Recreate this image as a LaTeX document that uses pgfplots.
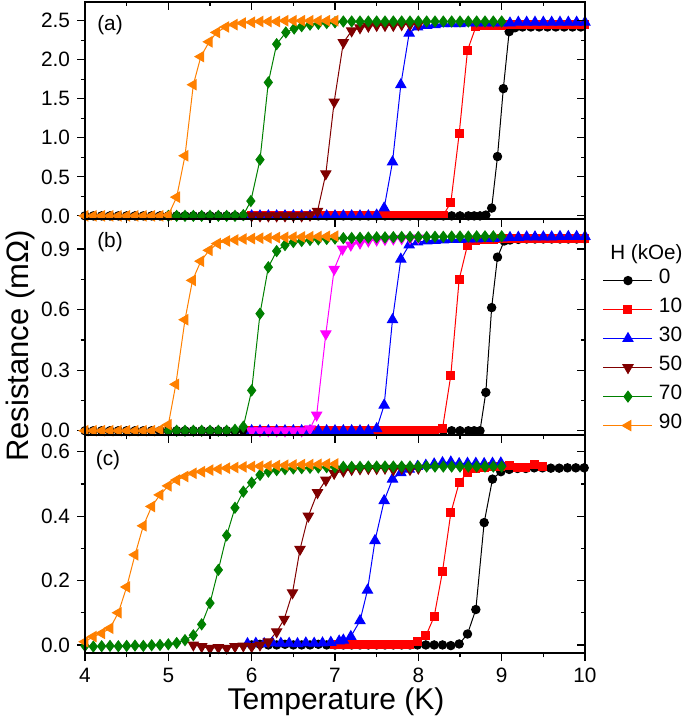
\documentclass[border=0pt]{standalone}
\usepackage{pgfplots}
\pgfplotsset{compat=1.18}
\usepackage{fontspec}
\setmainfont{Liberation Sans}
\definecolor{cred}{RGB}{255,0,0}
\definecolor{cblue}{RGB}{0,0,255}
\definecolor{cwine}{RGB}{128,0,0}
\definecolor{cgreen}{RGB}{0,128,0}
\definecolor{corange}{RGB}{255,128,0}
\definecolor{cmag}{RGB}{255,0,255}
\pgfplotsset{
  panel/.style={scale only axis, width=250pt, anchor=south west,
    xmin=4, xmax=10, xtick={4,5,...,10}, minor x tick num=1, minor y tick num=1,
    tick align=outside, tick pos=left,
    axis line style={line width=0.8pt},
    tick style={black, line width=0.6pt},
    major tick length=4pt, minor tick length=2.2pt,
    ticklabel style={font=\fontsize{10.4}{12}\selectfont},
    /pgf/number format/assume math mode=true,
    yticklabel style={/pgf/number format/.cd, fixed, fixed zerofill, precision=1}},
  over/.style={panel, tick align=inside, tick pos=right, xticklabels={}, yticklabels={}},
  s0/.style={black, line width=0.5pt, mark=*, mark size=2.1pt, mark options={solid}},
  s10/.style={cred, line width=0.5pt, mark=square*, mark size=2pt, mark options={solid}},
  s30/.style={cblue, line width=0.5pt, mark=triangle*, mark size=2.9pt, mark options={solid}},
  s50/.style={cwine, line width=0.5pt, mark=triangle*, mark size=2.9pt, mark options={solid, rotate=180}},
  s50m/.style={cmag, line width=0.5pt, mark=triangle*, mark size=2.9pt, mark options={solid, rotate=180}},
  s70/.style={cgreen, line width=0.5pt, mark=diamond*, mark size=2.7pt, mark options={solid}},
  s90/.style={corange, line width=0.5pt, mark=triangle*, mark size=2.9pt, mark options={solid, rotate=90}},
}
\begin{document}
\begin{tikzpicture}
\useasboundingbox (0,0) rectangle (342.5pt,361.5pt);
% ---------------- panel (a)
\begin{axis}[panel, at={(42.5pt,252pt)}, height=108.5pt, ymin=-0.04, ymax=2.74,
  ytick={0,0.5,1,1.5,2,2.5}, xticklabels={}]
\addplot[s0] coordinates {(4.0,0)(4.1,0)(4.2,0)(4.3,0)(4.4,0)(4.5,0)(4.6,0)(4.7,0)(4.8,0)(4.9,0)(5.0,0)(5.1,0)(5.2,0)(5.3,0)(5.4,0)(5.5,0)(5.6,0)(5.7,0)(5.8,0)(5.9,0)(6.0,0)(6.1,0)(6.2,0)(6.3,0)(6.4,0)(6.5,0)(6.6,0)(6.7,0)(6.8,0)(6.9,0)(7.0,0)(7.1,0)(7.2,0)(7.3,0)(7.4,0)(7.5,0)(7.6,0)(7.7,0)(7.8,0)(7.9,0)(8.0,0)(8.1,0)(8.2,0)(8.3,0)(8.4,0)(8.5,0)(8.6,0)(8.67,0)(8.74,0)(8.81,0.01)(8.88,0.10)(8.95,0.76)(9.02,1.63)(9.09,2.36)(9.16,2.41)(9.25,2.42)(9.35,2.42)(9.45,2.42)(9.55,2.42)(9.65,2.42)(9.75,2.42)(9.85,2.42)(9.95,2.42)};
\addplot[s10] coordinates {(6.0,0)(6.1,0)(6.2,0)(6.3,0)(6.4,0)(6.5,0)(6.6,0)(6.7,0)(6.8,0)(6.9,0)(7.0,0)(7.1,0)(7.2,0)(7.3,0)(7.4,0)(7.5,0)(7.6,0)(7.7,0)(7.8,0)(7.9,0)(8.0,0)(8.1,0)(8.2,0)(8.3,0.01)(8.39,0.17)(8.49,1.05)(8.59,2.12)(8.69,2.42)(8.79,2.44)(8.9,2.44)(9.0,2.44)(9.1,2.45)(9.2,2.45)(9.3,2.45)(9.4,2.45)(9.5,2.45)(9.6,2.45)(9.7,2.45)(9.8,2.45)(9.9,2.45)(10.0,2.45)};
\addplot[s30] coordinates {(6.0,0)(6.1,0)(6.2,0)(6.3,0)(6.4,0)(6.5,0)(6.6,0)(6.7,0)(6.8,0)(6.9,0)(7.0,0)(7.1,0)(7.2,0)(7.3,0)(7.4,0)(7.5,0.01)(7.59,0.10)(7.69,0.69)(7.79,1.68)(7.89,2.34)(7.99,2.42)(8.1,2.44)(8.2,2.45)(8.3,2.46)(8.4,2.46)(8.5,2.46)(8.6,2.47)(8.7,2.47)(8.8,2.47)(8.9,2.47)(9.0,2.47)(9.1,2.47)(9.2,2.48)(9.3,2.48)(9.4,2.48)(9.5,2.48)(9.6,2.48)(9.7,2.48)(9.8,2.48)(9.9,2.48)(10.0,2.48)};
\addplot[s50] coordinates {(6.0,0)(6.1,0)(6.2,0)(6.3,0)(6.4,0)(6.5,0)(6.6,0)(6.7,0.01)(6.79,0.06)(6.89,0.54)(6.99,1.46)(7.10,2.22)(7.20,2.37)(7.3,2.41)(7.4,2.43)(7.5,2.44)(7.6,2.44)(7.7,2.44)(7.8,2.45)(7.9,2.45)(8.0,2.45)};
\addplot[s70] coordinates {(5.0,0)(5.1,0)(5.2,0)(5.3,0)(5.4,0)(5.5,0)(5.6,0)(5.7,0)(5.8,0)(5.9,0.01)(5.99,0.19)(6.10,0.72)(6.20,1.71)(6.30,2.20)(6.41,2.35)(6.51,2.40)(6.6,2.43)(6.7,2.45)(6.8,2.46)(6.9,2.47)(7.0,2.48)(7.1,2.49)(7.2,2.49)(7.3,2.49)(7.4,2.49)(7.5,2.49)(7.6,2.49)(7.7,2.49)(7.8,2.49)(7.9,2.49)(8.0,2.49)(8.1,2.49)(8.2,2.49)(8.3,2.49)(8.4,2.49)(8.5,2.49)(8.6,2.49)(8.7,2.49)(8.8,2.49)(8.9,2.49)(9.0,2.49)};
\addplot[s90] coordinates {(4.0,0)(4.1,0)(4.2,0)(4.3,0)(4.4,0)(4.5,0)(4.6,0)(4.7,0)(4.8,0)(4.9,0)(5.0,0.01)(5.10,0.24)(5.20,0.77)(5.30,1.68)(5.39,2.04)(5.49,2.23)(5.58,2.35)(5.69,2.42)(5.79,2.45)(5.89,2.47)(6.0,2.48)(6.1,2.49)(6.2,2.49)(6.3,2.49)(6.4,2.50)(6.5,2.50)(6.6,2.50)(6.7,2.50)(6.8,2.50)(6.9,2.50)(7.0,2.50)};
\end{axis}
\begin{axis}[over, at={(42.5pt,252pt)}, height=108.5pt, ymin=-0.04, ymax=2.74, ytick={0,0.5,1,1.5,2,2.5}]
\end{axis}
% ---------------- panel (b)
\begin{axis}[panel, at={(42.5pt,144pt)}, height=108pt, ymin=-0.021, ymax=1.049,
  ytick={0,0.3,0.6,0.9}, xticklabels={},
  legend style={at={(axis description cs:1.036,0.775)}, anchor=north west, draw=none, fill=none,
    inner sep=0pt, outer sep=0pt, row sep=1.5pt, column sep=3pt,
    nodes={inner sep=0pt, text height=8pt, text depth=5pt, font=\fontsize{10.4}{12}\selectfont}},
  legend cell align=left,
  legend image code/.code={\draw[mark repeat=2,mark phase=2,#1] plot coordinates {(0pt,0pt) (12.25pt,0pt) (24.5pt,0pt)};}]
\addlegendimage{s0}
\addlegendimage{s10}
\addlegendimage{s30}
\addlegendimage{s50}
\addlegendimage{s70}
\addlegendimage{s90}
\addplot[s0, forget plot] coordinates {(4.0,0)(4.1,0)(4.2,0)(4.3,0)(4.4,0)(4.5,0)(4.6,0)(4.7,0)(4.8,0)(4.9,0)(5.0,0)(5.1,0)(5.2,0)(5.3,0)(5.4,0)(5.5,0)(5.6,0)(5.7,0)(5.8,0)(5.9,0)(6.0,0)(6.1,0)(6.2,0)(6.3,0)(6.4,0)(6.5,0)(6.6,0)(6.7,0)(6.8,0)(6.9,0)(7.0,0)(7.1,0)(7.2,0)(7.3,0)(7.4,0)(7.5,0)(7.6,0)(7.7,0)(7.8,0)(7.9,0)(8.0,0)(8.1,0)(8.2,0)(8.3,0)(8.4,0)(8.5,0)(8.6,0)(8.67,0)(8.74,0)(8.81,0.19)(8.88,0.61)(8.95,0.86)(9.03,0.94)(9.1,0.945)(9.2,0.948)(9.3,0.95)(9.4,0.95)(9.5,0.95)(9.6,0.95)(9.7,0.95)(9.8,0.95)(9.9,0.95)(10.0,0.95)};
\addplot[s10, forget plot] coordinates {(6.0,0)(6.1,0)(6.2,0)(6.3,0)(6.4,0)(6.5,0)(6.6,0)(6.7,0)(6.8,0)(6.9,0)(7.0,0)(7.1,0)(7.2,0)(7.3,0)(7.4,0)(7.5,0)(7.6,0)(7.7,0)(7.8,0)(7.9,0)(8.0,0)(8.1,0)(8.2,0)(8.29,0.01)(8.39,0.275)(8.49,0.75)(8.59,0.92)(8.69,0.94)(8.8,0.945)(8.9,0.948)(9.0,0.95)(9.1,0.95)(9.2,0.952)(9.3,0.952)(9.4,0.952)(9.5,0.953)(9.6,0.953)(9.7,0.953)(9.8,0.953)(9.9,0.953)(10.0,0.953)};
\addplot[s30, forget plot] coordinates {(6.0,0)(6.1,0)(6.2,0)(6.3,0)(6.4,0)(6.5,0)(6.6,0)(6.7,0)(6.8,0)(6.9,0)(7.0,0)(7.1,0)(7.2,0)(7.3,0)(7.4,0)(7.5,0.01)(7.59,0.127)(7.69,0.55)(7.79,0.85)(7.89,0.92)(7.99,0.935)(8.1,0.94)(8.2,0.943)(8.3,0.945)(8.4,0.947)(8.5,0.948)(8.6,0.95)(8.7,0.95)(8.8,0.952)(8.9,0.953)(9.0,0.955)(9.1,0.957)(9.2,0.958)(9.3,0.96)(9.4,0.96)(9.5,0.96)(9.6,0.96)(9.7,0.962)(9.8,0.962)(9.9,0.962)(10.0,0.962)};
\addplot[s50m, forget plot] coordinates {(6.0,0)(6.1,0)(6.2,0)(6.3,0)(6.4,0)(6.5,0)(6.6,0)(6.7,0.01)(6.78,0.078)(6.89,0.48)(6.99,0.80)(7.09,0.90)(7.19,0.92)(7.3,0.93)(7.4,0.94)(7.5,0.945)(7.6,0.948)(7.7,0.95)(7.8,0.952)(7.9,0.953)(8.0,0.955)};
\addplot[s70, forget plot] coordinates {(5.0,0)(5.1,0)(5.2,0)(5.3,0)(5.4,0)(5.5,0)(5.6,0)(5.7,0)(5.8,0.005)(5.9,0.02)(6.0,0.20)(6.10,0.58)(6.20,0.81)(6.30,0.89)(6.40,0.92)(6.5,0.935)(6.6,0.94)(6.7,0.945)(6.8,0.948)(6.9,0.95)(7.0,0.952)(7.1,0.954)(7.2,0.955)(7.3,0.956)(7.4,0.957)(7.5,0.958)(7.6,0.958)(7.7,0.959)(7.8,0.96)(7.9,0.96)(8.0,0.96)(8.1,0.96)(8.2,0.961)(8.3,0.961)(8.4,0.962)(8.5,0.962)(8.6,0.962)(8.7,0.963)(8.8,0.963)(8.9,0.963)(9.0,0.963)};
\addplot[s90, forget plot] coordinates {(4.0,0)(4.1,0)(4.2,0)(4.3,0)(4.4,0)(4.5,0)(4.6,0)(4.7,0)(4.8,0)(4.9,0.005)(5.0,0.03)(5.09,0.23)(5.20,0.55)(5.29,0.745)(5.39,0.84)(5.49,0.894)(5.59,0.927)(5.7,0.94)(5.8,0.945)(5.9,0.95)(6.0,0.952)(6.1,0.954)(6.2,0.955)(6.3,0.957)(6.4,0.958)(6.5,0.959)(6.6,0.96)(6.7,0.961)(6.8,0.962)(6.9,0.963)(7.0,0.964)};
\legend{0,10,30,50,70,90}
\end{axis}
\begin{axis}[over, at={(42.5pt,144pt)}, height=108pt, ymin=-0.021, ymax=1.049, ytick={0,0.3,0.6,0.9}]
\end{axis}
% ---------------- panel (c)
\begin{axis}[panel, at={(42.5pt,35pt)}, height=109pt, ymin=-0.025, ymax=0.652,
  ytick={0,0.2,0.4,0.6}]
\addplot[s0] coordinates {(6.0,0)(6.1,0.002)(6.2,0)(6.3,0)(6.4,0.002)(6.5,0)(6.6,0)(6.7,0)(6.8,0.002)(6.9,0)(7.0,0)(7.1,0)(7.2,0)(7.3,0)(7.4,0)(7.5,0)(7.6,0)(7.7,0)(7.8,0)(7.9,0)(7.99,0)(8.09,0)(8.19,0)(8.29,0)(8.39,-0.002)(8.49,0.003)(8.59,0.034)(8.69,0.11)(8.79,0.38)(8.89,0.515)(8.99,0.538)(9.09,0.545)(9.19,0.548)(9.29,0.548)(9.39,0.55)(9.49,0.55)(9.59,0.549)(9.69,0.549)(9.79,0.55)(9.89,0.55)(9.99,0.55)};
\addplot[s10] coordinates {(7.0,0)(7.1,0)(7.2,0)(7.3,0)(7.4,0)(7.5,0)(7.6,0)(7.7,0)(7.8,0)(7.9,0.002)(7.99,0.012)(8.09,0.028)(8.19,0.088)(8.29,0.228)(8.39,0.41)(8.49,0.504)(8.59,0.536)(8.69,0.549)(8.79,0.552)(8.89,0.553)(8.99,0.555)(9.1,0.556)(9.19,0.552)(9.29,0.552)(9.39,0.559)(9.49,0.553)};
\addplot[s30] coordinates {(5.95,0.004)(6.05,0.005)(6.15,0.004)(6.25,0.006)(6.35,0.005)(6.45,0.005)(6.55,0.004)(6.65,0.006)(6.75,0.005)(6.85,0.006)(6.95,0.008)(7.05,0.012)(7.1,0.015)(7.19,0.026)(7.30,0.075)(7.39,0.17)(7.48,0.324)(7.59,0.448)(7.69,0.515)(7.79,0.535)(7.89,0.546)(7.99,0.554)(8.09,0.558)(8.19,0.562)(8.29,0.566)(8.39,0.568)(8.49,0.563)(8.59,0.564)(8.69,0.564)(8.79,0.563)(8.89,0.564)(8.99,0.565)};
\addplot[s50] coordinates {(5.3,0)(5.4,-0.005)(5.5,-0.01)(5.6,-0.008)(5.7,-0.01)(5.8,-0.005)(5.9,-0.003)(6.0,-0.005)(6.1,0.0)(6.2,0.01)(6.3,0.041)(6.39,0.08)(6.49,0.162)(6.58,0.297)(6.68,0.40)(6.79,0.473)(6.89,0.512)(6.99,0.533)(7.1,0.54)(7.2,0.545)(7.3,0.547)(7.4,0.548)(7.5,0.548)(7.6,0.549)(7.7,0.544)(7.8,0.549)(7.9,0.545)(8.0,0.549)};
\addplot[s70] coordinates {(4.0,-0.003)(4.1,-0.005)(4.2,-0.004)(4.3,-0.003)(4.4,-0.004)(4.5,-0.003)(4.6,-0.002)(4.7,-0.003)(4.8,-0.001)(4.9,0.0)(5.0,0.002)(5.1,0.006)(5.2,0.015)(5.3,0.03)(5.4,0.064)(5.5,0.13)(5.6,0.233)(5.7,0.34)(5.8,0.426)(5.9,0.476)(6.0,0.504)(6.1,0.528)(6.2,0.538)(6.3,0.543)(6.4,0.546)(6.5,0.548)(6.6,0.549)(6.7,0.55)(6.8,0.551)(6.9,0.552)(7.0,0.552)(7.1,0.553)(7.2,0.553)(7.3,0.553)(7.4,0.554)(7.5,0.554)(7.6,0.554)(7.7,0.554)(7.8,0.554)(7.9,0.554)(8.0,0.554)(8.1,0.554)(8.2,0.554)(8.3,0.554)(8.4,0.554)(8.5,0.554)(8.6,0.554)(8.7,0.554)(8.8,0.554)(8.9,0.554)(9.0,0.554)};
\addplot[s90] coordinates {(4.0,0.01)(4.1,0.026)(4.2,0.036)(4.3,0.052)(4.4,0.10)(4.5,0.18)(4.6,0.28)(4.7,0.37)(4.8,0.43)(4.9,0.466)(5.0,0.494)(5.1,0.512)(5.2,0.523)(5.3,0.533)(5.4,0.538)(5.5,0.543)(5.6,0.546)(5.7,0.549)(5.8,0.551)(5.9,0.553)(6.0,0.554)(6.1,0.555)(6.2,0.556)(6.3,0.557)(6.4,0.558)(6.5,0.559)(6.6,0.56)(6.7,0.56)(6.8,0.561)(6.9,0.562)(7.0,0.562)};
\end{axis}
\begin{axis}[over, at={(42.5pt,35pt)}, height=109pt, ymin=-0.025, ymax=0.652, ytick={0,0.2,0.4,0.6}]
\end{axis}
% ---------------- labels
\node[font=\fontsize{10.4}{12}\selectfont] at (55pt,349pt) {(a)};
\node[font=\fontsize{10.4}{12}\selectfont] at (55pt,240.5pt) {(b)};
\node[font=\fontsize{10.4}{12}\selectfont] at (54pt,131.5pt) {(c)};
\node[anchor=west, inner sep=0pt, font=\fontsize{10.3}{12}\selectfont] at (305pt,234.5pt) {H (kOe)};
\node[font=\fontsize{15}{18}\selectfont] at (168pt,10.5pt) {Temperature (K)};
\node[rotate=90, font=\fontsize{15.5}{18}\selectfont] at (10pt,188.5pt) {Resistance (mΩ)};
\end{tikzpicture}
\end{document}
